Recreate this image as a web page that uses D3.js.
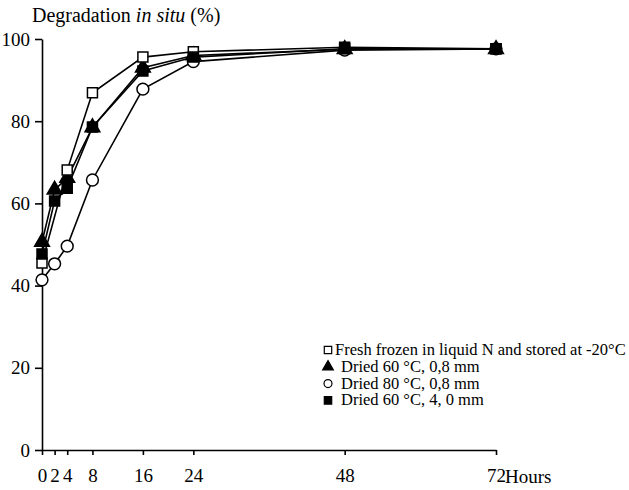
<!DOCTYPE html>
<html>
<head>
<meta charset="utf-8">
<script src="https://cdn.jsdelivr.net/npm/d3@7"></script>
<style>
  body { margin: 0; background: #fff; }
</style>
</head>
<body>
<svg id="chart" width="629" height="490"></svg>
<script>
// data
const hours = [0, 2, 4, 8, 16, 24, 48, 72];
const freshHours = [0, 4, 8, 16, 24, 48, 72];
const freshFrozen = [45.5, 68.1, 86.9, 95.6, 96.9, 98.0, 97.6];
const dried60thin = [50.6, 63.3, 66.2, 78.5, 93.0, 96.0, 97.5, 97.5];
const dried80thin = [41.4, 45.3, 49.6, 65.7, 87.8, 94.5, 97.3, 97.6];
const dried60thick = [47.7, 60.6, 63.7, 78.6, 92.2, 95.6, 97.6, 97.6];
const yTicks = [0, 20, 40, 60, 80, 100];
const legendLabels = [
  "Fresh frozen in liquid N and stored at -20°C",
  "Dried 60 °C, 0,8 mm",
  "Dried 80 °C, 0,8 mm",
  "Dried 60 °C, 4, 0 mm"
];

const FONT = "'Liberation Serif', 'DejaVu Serif', serif";

const svg = d3.select("#chart");
const x = d3.scaleLinear().domain([0, 72]).range([42, 496]);
const y = d3.scaleLinear().domain([0, 100]).range([450, 39]);

// axes
const gx = svg.append("g")
  .attr("transform", `translate(0,${y(0)})`)
  .call(d3.axisBottom(x).tickValues(hours).tickSize(5).tickSizeOuter(0).tickPadding(14));
const gy = svg.append("g")
  .attr("transform", `translate(${x(0)},0)`)
  .call(d3.axisLeft(y).tickValues(yTicks).tickSize(7).tickSizeOuter(0).tickPadding(5));
[gx, gy].forEach(g => {
  g.selectAll("path, line").attr("stroke", "#000").attr("stroke-width", 1.6);
  g.selectAll("text").attr("font-size", 19).attr("fill", "#000");
});

svg.append("text")
  .attr("x", 505).attr("y", 483)
  .attr("font-size", 19)
  .text("Hours");

const title = svg.append("text").attr("x", 32).attr("y", 22).attr("font-size", 20);
title.append("tspan").text("Degradation ");
title.append("tspan").attr("font-style", "italic").text("in situ");
title.append("tspan").text(" (%)");

// series
const series = [
  { xs: hours, ys: dried80thin, shape: "circle", fill: "#fff" },
  { xs: hours, ys: dried60thin, shape: "triangle", fill: "#000" },
  { xs: freshHours, ys: freshFrozen, shape: "square", fill: "#fff" },
  { xs: hours, ys: dried60thick, shape: "square", fill: "#000" }
];

const line = d3.line().x(d => x(d[0])).y(d => y(d[1]));

function symbolFor(shape, size) {
  const type = shape === "circle" ? d3.symbolCircle
    : shape === "triangle" ? d3.symbolTriangle : d3.symbolSquare;
  return d3.symbol().type(type).size(size)();
}

series.forEach(s => {
  const pts = s.xs.map((h, i) => [h, s.ys[i]]);
  svg.append("path")
    .attr("d", line(pts))
    .attr("fill", "none")
    .attr("stroke", "#000")
    .attr("stroke-width", 1.6);
});

series.forEach(s => {
  const pts = s.xs.map((h, i) => [h, s.ys[i]]);
  const size = s.shape === "circle" ? 110 : s.shape === "triangle" ? 95 : 100;
  svg.append("g").selectAll("path")
    .data(pts)
    .join("path")
    .attr("transform", d => `translate(${x(d[0])},${y(d[1])})`)
    .attr("d", symbolFor(s.shape, size))
    .attr("fill", s.fill)
    .attr("stroke", "#000")
    .attr("stroke-width", 1.5);
});

// legend
const legendShapes = [
  { shape: "square", fill: "#fff" },
  { shape: "triangle", fill: "#000" },
  { shape: "circle", fill: "#fff" },
  { shape: "square", fill: "#000" }
];
const lg = svg.append("g");
legendLabels.forEach((label, i) => {
  const cy = 350 + i * 16.8;
  lg.append("path")
    .attr("transform", `translate(328,${cy})`)
    .attr("d", symbolFor(legendShapes[i].shape, legendShapes[i].shape === "square" ? 55 : 50))
    .attr("fill", legendShapes[i].fill)
    .attr("stroke", "#000")
    .attr("stroke-width", 1.2);
  lg.append("text")
    .attr("x", i === 0 ? 335 : 341)
    .attr("y", cy + 5)
    .attr("font-size", 16.5)
    .text(label);
});

// serif face everywhere, set as inline style so nothing overrides it
svg.selectAll("text").style("font-family", FONT);
</script>
</body>
</html>
